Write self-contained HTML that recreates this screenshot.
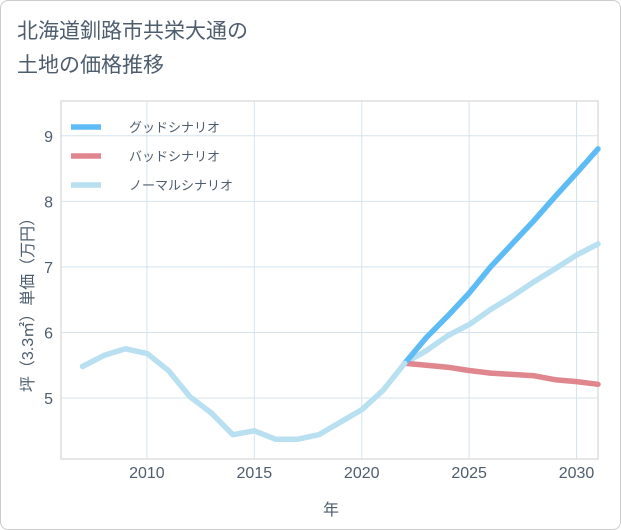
<!DOCTYPE html>
<html><head><meta charset="utf-8"><style>
body{margin:0;background:#fff;}
#card{position:relative;width:619px;height:528px;border:1px solid #ccc;border-radius:8px;background:#fff;overflow:hidden;font-family:"Liberation Sans","Noto Sans CJK JP",sans-serif;}
#title{position:absolute;left:16px;top:14px;font-size:21px;line-height:34px;color:#4e5d6e;}
svg{position:absolute;left:0;top:0;}
</style></head><body>
<div id="card">
<div id="title">北海道釧路市共栄大通の<br>土地の価格推移</div>
<svg id="chart" width="621" height="530"></svg>
</div>
<script>
const histYears=[2007,2008,2009,2010,2011,2012,2013,2014,2015,2016,2017,2018,2019,2020,2021,2022];
const histValues=[5.48,5.65,5.75,5.68,5.42,5.02,4.77,4.44,4.5,4.37,4.37,4.44,4.63,4.82,5.12,5.53];
const futYears=[2022,2023,2024,2025,2026,2027,2028,2029,2030,2031];
const goodValues=[5.53,5.92,6.25,6.6,7.0,7.35,7.7,8.07,8.43,8.8];
const badValues=[5.53,5.5,5.47,5.42,5.38,5.36,5.34,5.28,5.25,5.21];
const normalValues=[5.53,5.72,5.95,6.12,6.35,6.55,6.77,6.97,7.18,7.35];
const xTicks=[2010,2015,2020,2025,2030];
const yTicks=[5,6,7,8,9];
const X0=60,X1=597,Y0=100,Y1=458;
const xMin=2006.0,xMax=2031,yMin=4.07,yMax=9.53;
const xs=v=>X0+(v-xMin)/(xMax-xMin)*(X1-X0);
const ys=v=>Y1-(v-yMin)/(yMax-yMin)*(Y1-Y0);
const svg=document.getElementById('chart');
const NS='http://www.w3.org/2000/svg';
const TXT='#4e5d6e';
function mk(t,a){const e=document.createElementNS(NS,t);for(const k in a)e.setAttribute(k,a[k]);svg.appendChild(e);return e;}
const bg=mk('rect',{x:X0,y:Y0,width:X1-X0,height:Y1-Y0,fill:'#fff',stroke:'#ccc'});

xTicks.forEach(t=>{const g=mk('line',{x1:xs(t),x2:xs(t),y1:Y0,y2:Y1,stroke:'#d5e3ee'});

const l=mk('text',{x:xs(t),y:477,'text-anchor':'middle','font-size':16,fill:TXT});l.textContent=t;
});
yTicks.forEach(t=>{const g=mk('line',{x1:X0,x2:X1,y1:ys(t),y2:ys(t),stroke:'#d5e3ee'});

const l=mk('text',{x:52,y:ys(t)+6,'text-anchor':'end','font-size':16,fill:TXT});l.textContent=t;
});
function line(xv,yv,color,name){const d=xv.map((x,i)=>(i?'L':'M')+xs(x).toFixed(1)+','+ys(yv[i]).toFixed(1)).join('');
const p=mk('path',{d:d,fill:'none',stroke:color,'stroke-width':5.5,'stroke-linejoin':'round','stroke-linecap':'round'});
}
line(futYears,normalValues,'#b8e0f0','normal-scenario-line');
line(futYears,badValues,'#e0868e','bad-scenario-line');
line(futYears,goodValues,'#5dbcf5','good-scenario-line');
line(histYears,histValues,'#b8e0f0','historical-line');
const leg=[['グッドシナリオ','#5dbcf5',126],['バッドシナリオ','#e0868e',155],['ノーマルシナリオ','#b8e0f0',184]];
leg.forEach(e=>{const r=mk('line',{x1:70,x2:100,y1:e[2],y2:e[2],stroke:e[1],'stroke-width':5.5});

const t=mk('text',{x:128,y:e[2]+5,'font-size':13,fill:TXT});t.textContent=e[0];
});
const xt=mk('text',{x:330,y:514,'text-anchor':'middle','font-size':16,fill:TXT});xt.textContent='年';

const yt=mk('text',{x:0,y:0,'text-anchor':'middle','font-size':16,fill:TXT,transform:'translate(32,300) rotate(-90)'});yt.textContent='坪（3.3㎡）単価（万円）';

</script>
</body></html>
